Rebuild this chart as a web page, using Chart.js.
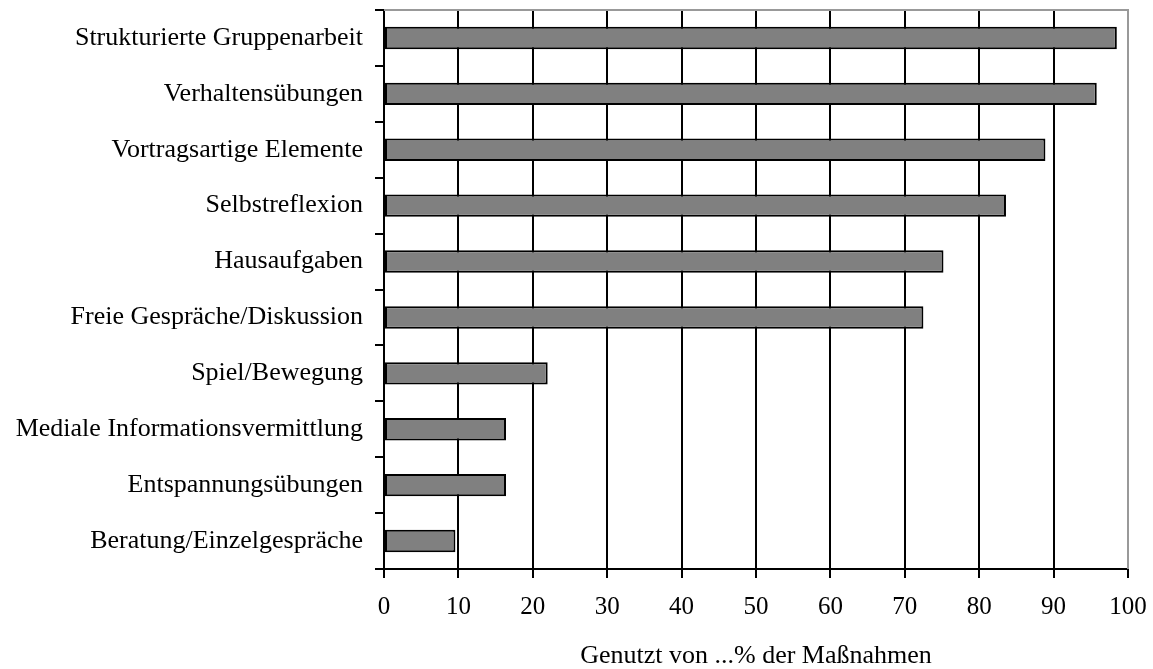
<!DOCTYPE html>
<html><head><meta charset="utf-8">
<script src="https://cdn.jsdelivr.net/npm/chart.js@4/dist/chart.umd.min.js"></script>
<style>html,body{margin:0;padding:0;background:#fff}#wrap{width:1153px;height:669px}</style>
</head><body><div id="wrap"><canvas id="c" width="1153" height="669"></canvas></div>
<script>
const categories = ["Strukturierte Gruppenarbeit","Verhaltensübungen","Vortragsartige Elemente","Selbstreflexion","Hausaufgaben","Freie Gespräche/Diskussion","Spiel/Bewegung","Mediale Informationsvermittlung","Entspannungsübungen","Beratung/Einzelgespräche"];
const values = [98.5, 95.8, 88.9, 83.6, 75.2, 72.5, 22.0, 16.4, 16.4, 9.6];
const xTicks = [0,10,20,30,40,50,60,70,80,90,100];
const xTitle = "Genutzt von ...% der Maßnahmen";

const SERIF = "'Liberation Serif', 'Times New Roman', serif";
const borderPlugin = {
  id: 'plotBorder',
  beforeDatasetsDraw(chart){
    const a = chart.chartArea, ctx = chart.ctx;
    ctx.save();
    ctx.strokeStyle = '#999999';
    ctx.lineWidth = 2;
    ctx.beginPath();
    ctx.moveTo(a.left, a.top); ctx.lineTo(a.right, a.top); ctx.lineTo(a.right, a.bottom);
    ctx.stroke();
    ctx.restore();
  }
};
new Chart(document.getElementById('c'), {
  type: 'bar',
  data: {labels: categories, datasets: [{data: values, backgroundColor: '#808080', borderColor: '#000000', borderWidth: 2, borderSkipped: false, categoryPercentage: 1, barPercentage: 0.4}]},
  options: {
    indexAxis: 'y', responsive: false, animation: false,
    layout: {padding: {top: 10, right: 25, left: 0, bottom: 0}},
    plugins: {legend: {display: false}, tooltip: {enabled: false}},
    scales: {
      x: {
        min: 0, max: 100,
        afterBuildTicks(s){ s.ticks = xTicks.map(v => ({value: v})); },
        afterFit(s){ s.height = 100; s.paddingLeft = 0; s.paddingRight = 0; },
        grid: {color: ctx => (ctx.tick && ctx.tick.value === 100) ? '#999999' : '#000000', lineWidth: 2, tickLength: 9, drawTicks: true, tickColor: '#000000'},
        border: {color: '#000000', width: 2},
        ticks: {color: '#000000', font: {family: SERIF, size: 25}, padding: 14, maxRotation: 0, autoSkip: false},
        title: {display: true, text: xTitle, color: '#000000', font: {family: SERIF, size: 26, lineHeight: 1.0}, padding: {top: 0, bottom: 0}}
      },
      y: {
        afterFit(s){ s.width = 384; s.paddingTop = 0; s.paddingBottom = 0; },
        grid: {offset: true, drawOnChartArea: false, color: '#000000', lineWidth: 2, tickLength: 9},
        border: {color: '#000000', width: 2},
        ticks: {color: '#000000', font: {family: SERIF, size: 26}, padding: 12, autoSkip: false}
      }
    }
  },
  plugins: [borderPlugin]
});
</script></body></html>
